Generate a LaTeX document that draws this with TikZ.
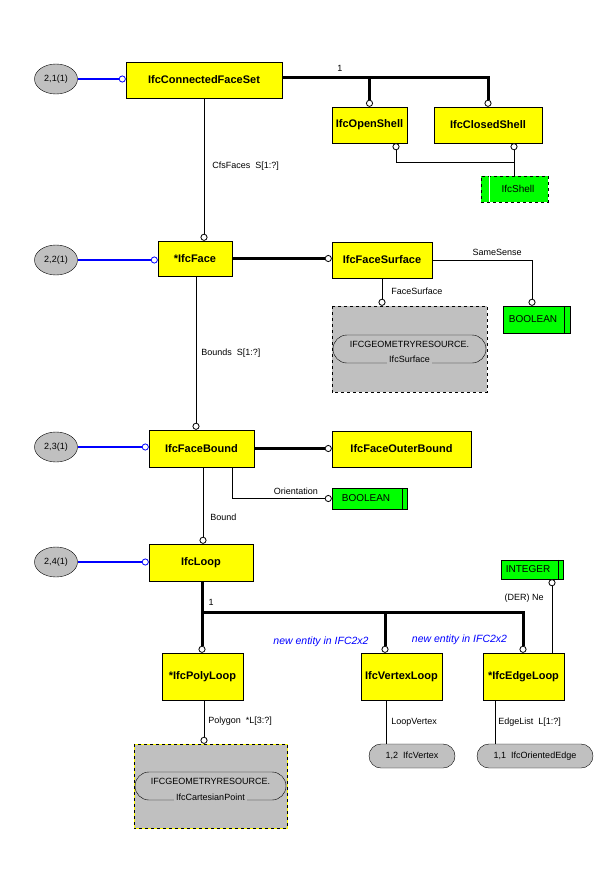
\documentclass[tikz,border=0pt]{standalone}
\usepackage{fontspec}
\setmainfont{Liberation Sans}
\usetikzlibrary{positioning,arrows.meta,shapes.geometric,shapes.misc}

\definecolor{entyellow}{RGB}{255,255,0}
\definecolor{typegreen}{RGB}{0,255,0}
\definecolor{refgray}{RGB}{192,192,192}
\definecolor{linkblue}{RGB}{0,0,255}

\begin{document}
\begin{tikzpicture}[x=1pt, y=-1pt,
    ring/.tip={Circle[open, fill=white, length=7pt, width=7pt, line width=0.8pt]},
    entity/.style={draw, fill=entyellow, minimum height=36pt, inner sep=0pt, font=\fontsize{11}{13}\selectfont\bfseries},
    typebox/.style={draw, fill=typegreen, inner sep=0pt, font=\fontsize{10}{12}\selectfont},
    pageref/.style={ellipse, draw, fill=refgray, minimum width=43pt, minimum height=30pt, inner sep=0pt, font=\fontsize{9}{10}\selectfont},
    pill/.style={rounded rectangle, draw, fill=refgray, minimum height=24pt, inner sep=0pt, font=\fontsize{9}{10}\selectfont},
    schema/.style={fill=refgray, inner sep=0pt},
    lbl/.style={font=\fontsize{9}{10}\selectfont, inner sep=1pt},
    note/.style={font=\fontsize{10.5}{12}\selectfont\itshape, text=linkblue, inner sep=0pt},
    rel/.style={arrows={-ring}, line width=0.8pt},
    subrel/.style={arrows={ring-}, line width=0.8pt},
    plain/.style={line width=0.8pt},
    suptype/.style={arrows={-ring}, line width=3pt},
    pagelink/.style={arrows={-ring}, draw=linkblue, line width=1.5pt}
  ]
  \useasboundingbox (0,0) rectangle (600,888);

  % page references
  \node [pageref] (pg1) at (56,79) {2,1(1)};
  \node [pageref] (pg2) at (56,260) {2,2(1)};
  \node [pageref] (pg3) at (56,447) {2,3(1)};
  \node [pageref] (pg4) at (56,562) {2,4(1)};

  % entities
  \node [entity, minimum width=156pt] (cfs) at (204,80) {IfcConnectedFaceSet};
  \node [entity, minimum width=75pt] (openshell) at (369.5,125) {IfcOpenShell};
  \node [entity, minimum width=108pt] (closedshell) at (488,125) {IfcClosedShell};
  \node [entity, minimum width=74pt, minimum height=35pt] (face) at (195,258.5) {*IfcFace};
  \node [entity, minimum width=100pt] (facesurface) at (382,260) {IfcFaceSurface};
  \node [entity, minimum width=105pt, minimum height=37pt] (facebound) at (201.5,448.5) {IfcFaceBound};
  \node [entity, minimum width=139pt] (outerbound) at (401.5,449) {IfcFaceOuterBound};
  \node [entity, minimum width=104pt, minimum height=37pt] (loop) at (201,562.5) {IfcLoop};
  \node [entity, minimum width=81pt, minimum height=47pt] (polyloop) at (202.5,676.5) {*IfcPolyLoop};
  \node [entity, minimum width=81pt, minimum height=47pt] (vertexloop) at (401.5,676.5) {IfcVertexLoop};
  \node [entity, minimum width=81pt, minimum height=47pt] (edgeloop) at (523.5,676.5) {*IfcEdgeLoop};

  % defined and simple types
  \node [typebox, dashed, minimum width=67pt, minimum height=26pt] (shell) at (514.5,189) {\hspace*{7pt}IfcShell};
  \draw [white] ([xshift=8pt]shell.north west) -- ([xshift=8pt]shell.south west);
  \node [typebox, minimum width=67pt, minimum height=27pt] (samebool) at (536.5,319.5) {BOOLEAN\hspace*{7pt}};
  \draw ([xshift=-6pt]samebool.north east) -- ([xshift=-6pt]samebool.south east);
  \node [typebox, minimum width=75pt, minimum height=21pt] (orientbool) at (369.5,498.5) {BOOLEAN\hspace*{7pt}};
  \draw ([xshift=-5pt]orientbool.north east) -- ([xshift=-5pt]orientbool.south east);
  \node [typebox, minimum width=62pt, minimum height=19pt] (intnum) at (532,569.5) {INTEGER\hspace*{8pt}};
  \draw ([xshift=-5pt]intnum.north east) -- ([xshift=-5pt]intnum.south east);

  % schema references
  \node [schema, minimum width=155pt, minimum height=86pt] (surfschema) at (409.5,349) {};
  \draw [dashed] (surfschema.north west) rectangle (surfschema.south east);
  \node [pill, minimum width=153pt, minimum height=28pt] (surfpill) at (409.5,349) {};
  \node [lbl] (surfschemaname) at (409.5,344) {IFCGEOMETRYRESOURCE.};
  \node [lbl, fill=refgray, inner sep=2pt] (surfname) at (409.5,359) {IfcSurface};

  \node [schema, draw=entyellow, minimum width=153pt, minimum height=84pt] (ptschema) at (210.5,786) {};
  \draw [dashed] (ptschema.north west) rectangle (ptschema.south east);
  \node [pill, minimum width=151pt, minimum height=28pt] (ptpill) at (210.5,786) {};
  \node [lbl] (ptschemaname) at (210.5,781) {IFCGEOMETRYRESOURCE.};
  \node [lbl, fill=refgray, inner sep=2pt] (ptname) at (210.5,797) {IfcCartesianPoint};

  \node [pill, minimum width=86pt] (vertexref) at (412,756) {1,2\ \ IfcVertex};
  \node [pill, minimum width=116pt] (edgeref) at (535,756) {1,1\ \ IfcOrientedEdge};

  % notes
  \node [note] (note1) at (321,642) {new entity in IFC2x2};
  \node [note] (note2) at (459.5,640) {new entity in IFC2x2};

  % page links
  \draw [pagelink] (pg1) -- (pg1 -| cfs.west);
  \draw [pagelink] (pg2) -- (pg2 -| face.west);
  \draw [pagelink] (pg3) -- (pg3 -| facebound.west);
  \draw [pagelink] (pg4) -- (pg4 -| loop.west);

  % subtype trees
  \draw [suptype] ([yshift=2pt]cfs.east) -| (openshell.north);
  \draw [suptype] ([yshift=2pt]cfs.east) -| (closedshell.north)
        node [lbl, pos=0.14, above=4pt] {1};
  \draw [suptype] (face.east) -- (face.east -| facesurface.west);
  \draw [suptype] (facebound.east) -- (facebound.east -| outerbound.west);

  \coordinate (loopjoin) at (202,612);
  \draw [suptype] (loop.south -| loopjoin) -- (polyloop.north -| loopjoin)
        node [lbl, pos=0.29, right=4pt] {1};
  \draw [suptype] (loopjoin) -| ([xshift=-16.5pt]vertexloop.north);
  \draw [suptype] (loopjoin) -| ([xshift=-0.5pt]edgeloop.north);

  % select
  \coordinate (shelljoin) at (514.5,162);
  \draw [subrel] ([xshift=26.5pt]openshell.south) |- (shelljoin) -- (shell.north);
  \draw [subrel] ([xshift=26pt]closedshell.south) |- (shelljoin);

  % attributes
  \draw [rel] (cfs.south) -- (cfs.south |- face.north)
        node [lbl, pos=0.48, right=7pt] {CfsFaces\ \ S[1:?]};
  \draw [rel] (facesurface.east) -| ([xshift=-4.5pt]samebool.north)
        node [lbl, pos=0.325, above=3pt] {SameSense};
  \draw [rel] (facesurface.south) -- (facesurface.south |- surfschema.north)
        node [lbl, pos=0.46, right=8pt] {FaceSurface};
  \draw [rel] ([xshift=1pt]face.south) -- ([xshift=1pt]face.south |- facebound.north)
        node [lbl, pos=0.5, right=4pt] {Bounds\ \ S[1:?]};
  \draw [rel] ([xshift=30.5pt]facebound.south) |- (orientbool.west)
        node [lbl, pos=0.82, above=3pt] {Orientation};
  \draw [rel] ([xshift=1.5pt]facebound.south) -- ([xshift=1.5pt]facebound.south |- loop.north)
        node [lbl, pos=0.65, right=6pt] {Bound};
  \draw [rel] ([xshift=28.5pt]edgeloop.north) -- ([xshift=28.5pt]edgeloop.north |- intnum.south)
        node [lbl, pos=0.74, left=7pt] {(DER) Ne};
  \draw [rel] ([xshift=1.5pt]polyloop.south) -- ([xshift=1.5pt]polyloop.south |- ptschema.north)
        node [lbl, pos=0.48, right=3pt] {Polygon\ \ *L[3:?]};
  \draw [plain] ([xshift=-15.5pt]vertexloop.south) -- ([xshift=-15.5pt]vertexloop.south |- vertexref.north)
        node [lbl, pos=0.5, right=4pt] {LoopVertex};
  \draw [plain] ([xshift=-28.5pt]edgeloop.south) -- ([xshift=-28.5pt]edgeloop.south |- edgeref.north)
        node [lbl, pos=0.5, right=2pt] {EdgeList\ \ L[1:?]};
\end{tikzpicture}
\end{document}
